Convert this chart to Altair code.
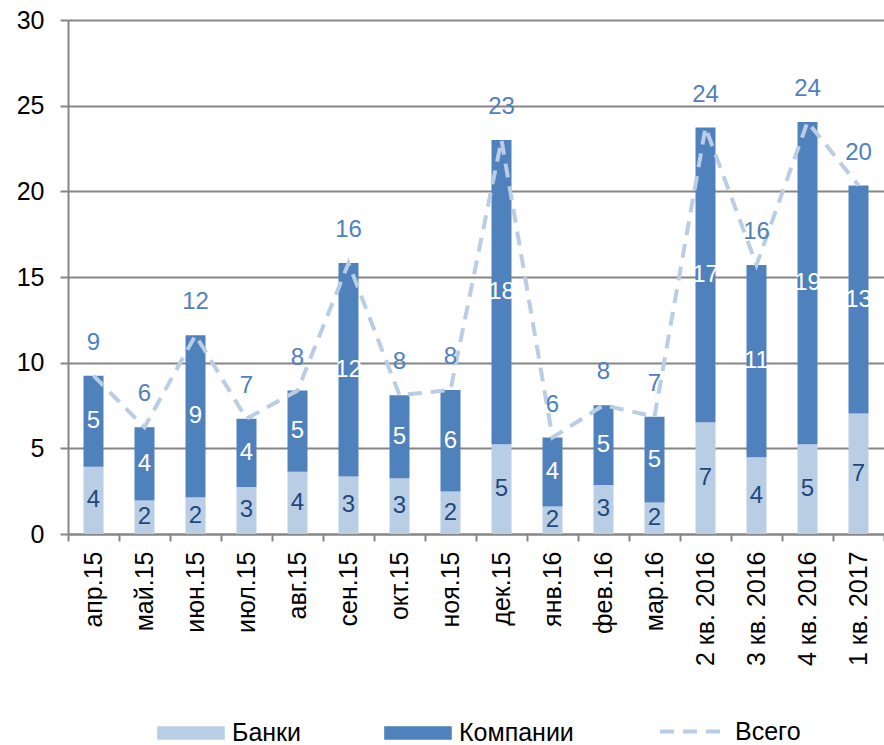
import altair as alt
import pandas as pd

categories = ["апр.15", "май.15", "июн.15", "июл.15", "авг.15", "сен.15", "окт.15",
              "ноя.15", "дек.15", "янв.16", "фев.16", "мар.16", "2 кв. 2016",
              "3 кв. 2016", "4 кв. 2016", "1 кв. 2017"]
banks = [3.92, 1.95, 2.15, 2.75, 3.64, 3.35, 3.25, 2.48, 5.24, 1.60, 2.86, 1.84,
         6.52, 4.48, 5.24, 7.03]
companies = [5.32, 4.28, 9.45, 3.98, 4.73, 12.46, 4.85, 5.93, 17.76, 4.03, 4.66,
             5.01, 17.20, 11.22, 18.81, 13.31]
series_names = ["Банки", "Компании"]
total_name = "Всего"

FONT = "Liberation Sans"
LIGHT = "#B9CDE5"
DARK = "#4F81BD"
GRID = "#868686"

rows = []
for c, b, k in zip(categories, banks, companies):
    rows.append({"cat": c, "series": series_names[0], "value": b, "mid": b / 2, "ord": 0})
    rows.append({"cat": c, "series": series_names[1], "value": k, "mid": b + k / 2, "ord": 1})
df = pd.DataFrame(rows)
tot = pd.DataFrame({"cat": categories,
                    "total": [b + k for b, k in zip(banks, companies)],
                    "series": total_name})

x_axis = alt.Axis(labelAngle=-90, labelFontSize=25, labelColor="black", labelFont=FONT,
                  tickBand="extent", tickSize=7, labelPadding=10, domainColor=GRID,
                  domainWidth=2, tickColor=GRID, tickWidth=2, grid=False, labelLimit=0,
                  title=None)
y_axis = alt.Axis(values=[0, 5, 10, 15, 20, 25, 30], title=None, labelFontSize=25,
                  labelColor="black", labelFont=FONT, tickSize=8, labelPadding=16,
                  gridColor=GRID, gridWidth=1.8, domainColor=GRID, domainWidth=2,
                  tickColor=GRID, tickWidth=2)
x_scale = alt.Scale(paddingInner=0, paddingOuter=0)
y_scale = alt.Scale(domain=[0, 30], nice=False)

def X():
    return alt.X("cat:N", sort=categories, scale=x_scale, axis=x_axis)

bars = alt.Chart(df).mark_bar(size=20).encode(
    x=X(),
    y=alt.Y("value:Q", stack="zero", scale=y_scale, axis=y_axis),
    order=alt.Order("ord:Q"),
    color=alt.Color("series:N",
                    scale=alt.Scale(domain=series_names, range=[LIGHT, DARK]),
                    legend=alt.Legend(orient="none", legendX=89, legendY=679,
                                      direction="horizontal", title=None,
                                      symbolType="M-1,-0.2H1V0.2H-1Z",
                                      symbolSize=4570, symbolStrokeWidth=0,
                                      labelFontSize=25, labelFont=FONT,
                                      labelColor="black", labelOffset=7,
                                      columnPadding=82, padding=0, labelLimit=0)),
)

bar_text = alt.Chart(df).mark_text(fontSize=24, font=FONT, baseline="middle").encode(
    x=X(),
    y=alt.Y("mid:Q", scale=y_scale, axis=y_axis),
    text=alt.Text("value:Q", format=".0f"),
    color=alt.condition("datum.series == 'Банки'", alt.value("#1F497D"), alt.value("white")),
)

line = alt.Chart(tot).mark_line(color=LIGHT, strokeWidth=4).encode(
    x=X(),
    y=alt.Y("total:Q", scale=y_scale, axis=y_axis),
    strokeDash=alt.StrokeDash("series:N",
                              scale=alt.Scale(domain=[total_name], range=[[14, 9]]),
                              legend=alt.Legend(orient="none", legendX=590, legendY=676,
                                                title=None, symbolType="stroke",
                                                symbolSize=4489, symbolStrokeWidth=4,
                                                symbolStrokeColor=LIGHT,
                                                symbolDash=[15, 13],
                                                labelFontSize=25, labelFont=FONT,
                                                labelColor="black", labelOffset=6,
                                                padding=0, labelLimit=0)),
)

tot_text = alt.Chart(tot).mark_text(fontSize=24, font=FONT, baseline="middle", dy=-33,
                                    color=DARK).encode(
    x=X(),
    y=alt.Y("total:Q", scale=y_scale, axis=y_axis),
    text=alt.Text("total:Q", format=".0f"),
)

chart = alt.layer(bars, line, bar_text, tot_text).properties(
    width=816, height=514,
    autosize=alt.AutoSizeParams(type="none"),
    padding={"left": 68, "top": 20, "right": 0, "bottom": 211},
).configure_view(stroke=None).configure(font=FONT)

chart.save("out.html", embed_options={"renderer": "svg", "actions": False})
